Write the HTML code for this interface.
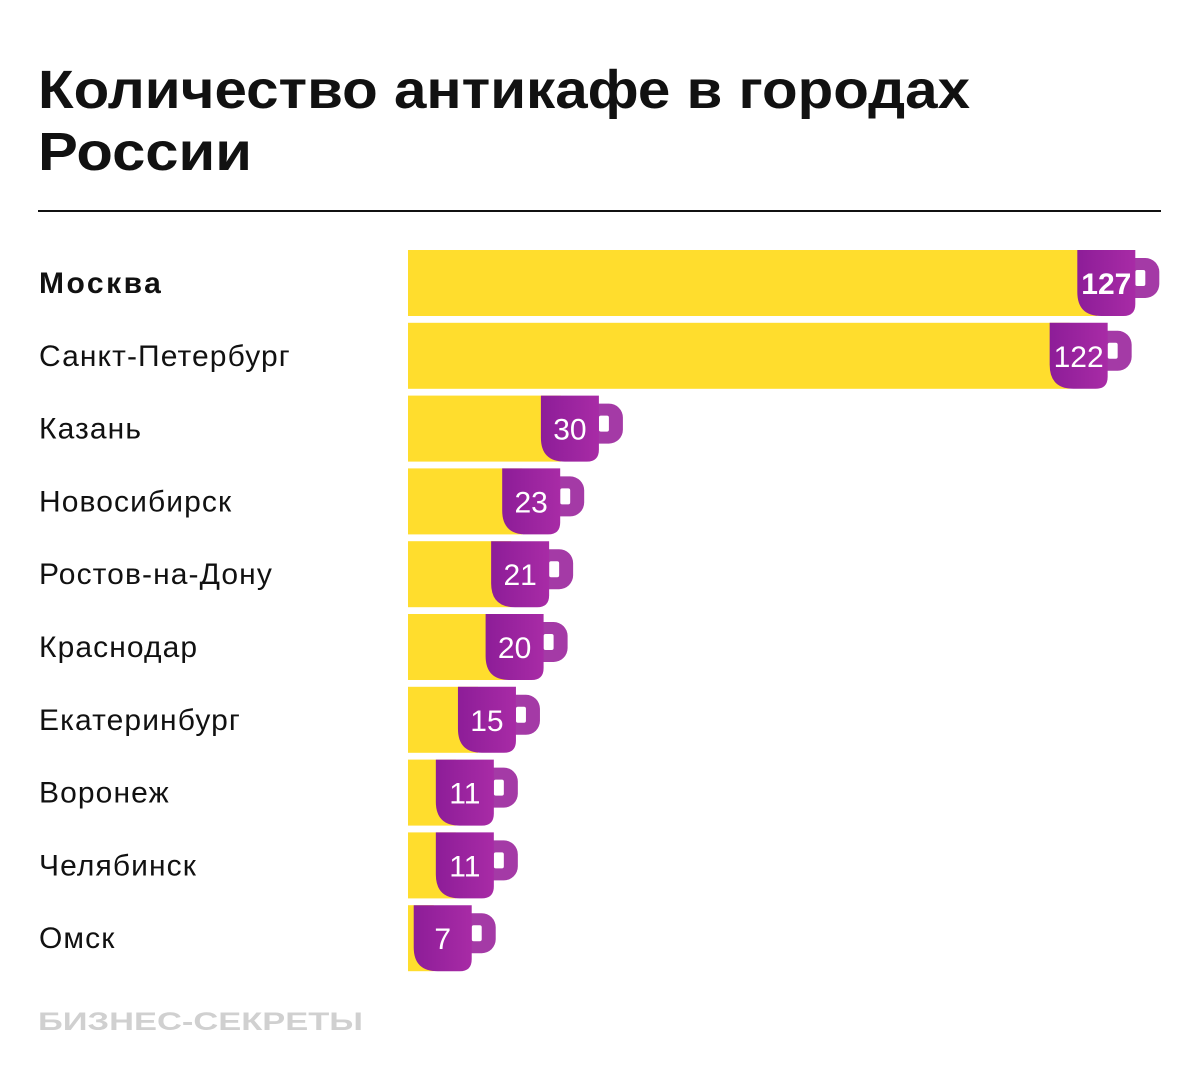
<!DOCTYPE html>
<html><head><meta charset="utf-8"><style>
body{margin:0;background:#fff;width:1200px;height:1089px;overflow:hidden;font-family:"Liberation Sans",sans-serif}
svg{display:block}
</style></head><body>
<svg width="1200" height="1089">
<defs><linearGradient id="g" x1="0" x2="1"><stop offset="0" stop-color="#8d1d98"/><stop offset="1" stop-color="#a82ba6"/></linearGradient></defs>
<text x="38" y="108" font-size="54" font-weight="bold" fill="#111" textLength="932" lengthAdjust="spacingAndGlyphs">Количество антикафе в городах</text>
<text x="38" y="170" font-size="54" font-weight="bold" fill="#111" textLength="214" lengthAdjust="spacingAndGlyphs">России</text>
<rect x="38" y="210" width="1123" height="2" fill="#111"/>
<g id="bars"></g>
<text x="38" y="1030" font-size="25" font-weight="bold" fill="#d0d0d0" textLength="325" lengthAdjust="spacingAndGlyphs">БИЗНЕС-СЕКРЕТЫ</text>
</svg>
<script>
const cities=["Москва","Санкт-Петербург","Казань","Новосибирск","Ростов-на-Дону","Краснодар","Екатеринбург","Воронеж","Челябинск","Омск"];
const values=[127,122,30,23,21,20,15,11,11,7];
const NS="http://www.w3.org/2000/svg";
const x=v=>433+v*5.53, y=i=>250+i*72.8, BH=66, CW=58;
const g=document.getElementById('bars');
function mk(t,a){const e=document.createElementNS(NS,t);for(const k in a)e.setAttribute(k,a[k]);g.appendChild(e);return e;}
cities.forEach((c,i)=>{
 const t=y(i), r=x(values[i]), l=r-CW;
 const lab=mk('text',{x:39,y:t+43,'font-size':30,fill:'#111','letter-spacing':i==0?'2.5':'1.1','font-weight':i==0?'bold':'normal'});
 lab.textContent=c;
 
 
 const b=mk('rect',{x:408,y:t,width:Math.max(l+20-408,8),height:BH,fill:'#ffdd2d'});
 
 
 const h=mk('rect',{x:r-14,y:t+8,width:38,height:40,rx:14,fill:'#a43aa6'});
 
 
 mk('rect',{x:r,y:t+20,width:10,height:16,rx:2,fill:'#fff'});
 const cup=mk('path',{d:`M${l} ${t}H${r}V${t+BH-12}Q${r} ${t+BH} ${r-12} ${t+BH}H${l+24}Q${l} ${t+BH} ${l} ${t+BH-24}Z`,fill:'url(#g)'});
 
 
 const v=mk('text',{x:l+CW/2,y:t+44,'font-size':30,fill:'#fff','text-anchor':'middle','font-weight':i==0?'bold':'normal'});
 v.textContent=values[i];
 
 
});
</script>
</body></html>
